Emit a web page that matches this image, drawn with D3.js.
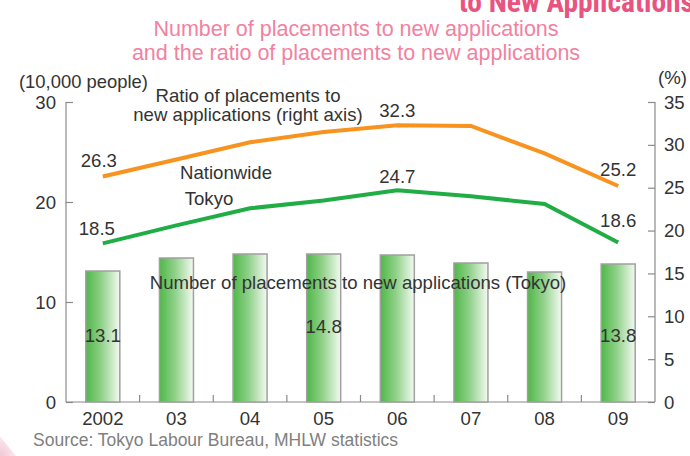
<!DOCTYPE html>
<html><head><meta charset="utf-8">
<script src="https://cdn.jsdelivr.net/npm/d3@7"></script>
<style>
body{margin:0;background:#fff;}
text{font-family:"Liberation Sans",Arial,Helvetica,sans-serif;}
</style></head>
<body><svg id="c" width="690" height="456"></svg>
<script>
const years = ["2002","03","04","05","06","07","08","09"];
const placementsTokyo = [13.1,14.4,14.8,14.8,14.7,13.9,13.0,13.8];
const ratioNationwide = [26.3,28.3,30.3,31.5,32.3,32.2,29.0,25.2];
const ratioTokyo = [18.5,20.6,22.6,23.5,24.7,24.0,23.1,18.6];
const leftTicks = [0,10,20,30];
const rightTicks = [0,5,10,15,20,25,30,35];
const barLabelIdx = [0,3,7];
const nationLabelIdx = [0,4,7];
const tokyoLabelIdx = [0,4,7];

const svg = d3.select("#c");
const x0=66,x1=655,yTop=102,yBot=402;
const x = d3.scaleBand().domain(years).range([x0,x1]).paddingInner(0.538).paddingOuter(0.269);
const yL = d3.scaleLinear().domain([0,30]).range([yBot,yTop]);
const yR = d3.scaleLinear().domain([0,35]).range([yBot,yTop]);
const cx = d => x(d)+x.bandwidth()/2;
const txt="#333", axc="#8a8a8a", FS=18.6;

const defs=svg.append("defs");
const cg=defs.append("radialGradient").attr("id","corner").attr("cx","0").attr("cy","1").attr("r","1");
cg.append("stop").attr("offset","0").attr("stop-color","#f3c6d5");
cg.append("stop").attr("offset","1").attr("stop-color","#fbe9ef");
svg.append("path").attr("d","M0,436 Q6,444 16,456 L0,456 Z").attr("fill","url(#corner)");

// titles
svg.append("text").attr("x",694).attr("y",12).attr("text-anchor","end")
  .attr("font-size",29.5).attr("font-weight","bold").attr("fill","#e9537f")
  .style("font-family","'Liberation Sans Narrow','Roboto Condensed',Arial,sans-serif")
  .text("to New Applications");
svg.append("text").attr("x",356).attr("y",36).attr("text-anchor","middle").attr("font-size",21.5).attr("fill","#f2829f")
  .text("Number of placements to new applications");
svg.append("text").attr("x",356).attr("y",60).attr("text-anchor","middle").attr("font-size",21.5).attr("fill","#f2829f")
  .text("and the ratio of placements to new applications");

const bg=defs.append("linearGradient").attr("id","bar").attr("x1","0").attr("x2","1").attr("y1","0").attr("y2","0");
bg.append("stop").attr("offset","0").attr("stop-color","#4fb848");
bg.append("stop").attr("offset","0.45").attr("stop-color","#8fd088");
bg.append("stop").attr("offset","1").attr("stop-color","#f4faf2");

// axes
const gl=svg.append("g").attr("transform",`translate(${x0},0)`)
  .call(d3.axisRight(yL).tickValues(leftTicks).tickSize(7).tickFormat(""));
gl.select(".domain").attr("stroke",axc).attr("stroke-width",1.2).attr("d",`M0,${yTop}V${yBot}`);
gl.selectAll(".tick line").attr("stroke",axc).attr("stroke-width",1.2);
leftTicks.forEach(t=>svg.append("text").attr("x",56).attr("y",yL(t)+6.5).attr("text-anchor","end").attr("font-size",FS).attr("fill",txt).text(t));

const gr=svg.append("g").attr("transform",`translate(${x1},0)`)
  .call(d3.axisLeft(yR).tickValues(rightTicks).tickSize(7).tickFormat(""));
gr.select(".domain").attr("stroke",axc).attr("stroke-width",1.2).attr("d",`M0,${yTop}V${yBot}`);
gr.selectAll(".tick line").attr("stroke",axc).attr("stroke-width",1.2);
rightTicks.forEach(t=>svg.append("text").attr("x",664).attr("y",yR(t)+6.5).attr("text-anchor","start").attr("font-size",FS).attr("fill",txt).text(t));

svg.append("line").attr("x1",x0).attr("x2",x1).attr("y1",yBot).attr("y2",yBot).attr("stroke",axc).attr("stroke-width",1.2);
years.slice(1).forEach(y=>{const xx=x(y)-x.step()*x.paddingInner()/2;
  svg.append("line").attr("x1",xx).attr("x2",xx).attr("y1",yBot).attr("y2",yBot-7).attr("stroke",axc).attr("stroke-width",1.2);});
years.forEach(y=>svg.append("text").attr("x",cx(y)).attr("y",425).attr("text-anchor","middle").attr("font-size",FS).attr("fill",txt).text(y));

svg.append("text").attr("x",19).attr("y",88).attr("font-size",18.4).attr("fill",txt).text("(10,000 people)");
svg.append("text").attr("x",658).attr("y",84).attr("font-size",FS).attr("fill",txt).text("(%)");

// bars
svg.selectAll("rect.b").data(placementsTokyo).enter().append("rect").attr("class","b")
  .attr("x",(d,i)=>x(years[i])).attr("width",x.bandwidth())
  .attr("y",d=>yL(d)).attr("height",d=>yBot-yL(d))
  .attr("fill","url(#bar)").attr("stroke","#a0a0a0").attr("stroke-width",1.5);

// lines
const line=(sc)=>d3.line().x((d,i)=>cx(years[i])).y(d=>sc(d));
svg.append("path").datum(ratioNationwide).attr("d",line(yR)).attr("fill","none").attr("stroke","#f7931e").attr("stroke-width",4);
svg.append("path").datum(ratioTokyo).attr("d",line(yR)).attr("fill","none").attr("stroke","#20ad45").attr("stroke-width",4);

// annotations
const lab=(t,xx,yy,anchor="middle",fs=FS)=>svg.append("text").attr("x",xx).attr("y",yy).attr("text-anchor",anchor).attr("font-size",fs).attr("fill",txt).text(t);
lab("Ratio of placements to",248,102);
lab("new applications (right axis)",248,121);
lab("Nationwide",226,179);
lab("Tokyo",209,205);
lab("Number of placements to new applications (Tokyo)",358,289);

const nOff=[[-4,-10],[0,-8],[0,-10]], tOff=[[-6,-8],[0,-7],[0,-16]];
nationLabelIdx.forEach((k,j)=>lab(ratioNationwide[k].toFixed(1),cx(years[k])+nOff[j][0],yR(ratioNationwide[k])+nOff[j][1]));
tokyoLabelIdx.forEach((k,j)=>lab(ratioTokyo[k].toFixed(1),cx(years[k])+tOff[j][0],yR(ratioTokyo[k])+tOff[j][1]));
const bY=[342,333,342];
barLabelIdx.forEach((k,j)=>lab(placementsTokyo[k].toFixed(1),cx(years[k]),bY[j]));

svg.append("text").attr("x",33).attr("y",446).attr("font-size",17.5).attr("fill","#808080").text("Source: Tokyo Labour Bureau, MHLW statistics");
</script></body></html>
